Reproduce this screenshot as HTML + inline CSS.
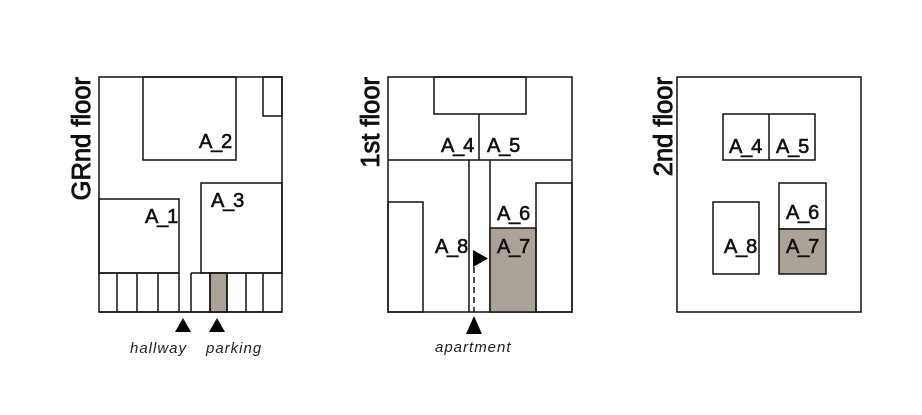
<!DOCTYPE html>
<html><head><meta charset="utf-8"><style>
html,body{margin:0;padding:0;background:#fff;}
svg{display:block;}
.l{font-family:"Liberation Sans",sans-serif;font-size:20px;fill:#111;stroke:#111;stroke-width:0.6;letter-spacing:-1.2px;}
.f{font-family:"Liberation Sans",sans-serif;font-size:25.5px;fill:#111;stroke:#111;stroke-width:0.9;}
.i{font-family:"Liberation Sans",sans-serif;font-size:15px;font-style:italic;fill:#222;letter-spacing:1px;}
</style></head><body>
<svg width="922" height="415" viewBox="0 0 922 415" xmlns="http://www.w3.org/2000/svg">
<g fill="none" stroke="#111" stroke-width="1.5">
<rect x="99" y="77" width="183" height="235"/>
<rect x="143" y="77" width="93" height="83"/>
<rect x="263" y="77" width="19" height="39"/>
<rect x="99" y="199" width="80" height="74"/>
<rect x="201" y="183" width="81" height="90"/>
<rect x="210" y="273" width="17" height="39" fill="#aba398"/>
<path d="M99 273H179M191 273H282M117 273V312M137 273V312M158 273V312M179 273V312M191 273V312M210 273V312M227 273V312M246 273V312M263 273V312M99 312H282"/>
<rect x="388" y="77" width="184" height="235"/>
<rect x="434" y="77" width="92" height="37"/>
<path d="M479 114V160M388 160H572M469 160V312M490 160V312"/>
<rect x="388" y="202" width="35" height="110"/>
<rect x="490" y="228" width="46" height="84" fill="#aba398"/>
<rect x="536" y="183" width="36" height="129"/>
<path d="M474 267V312" stroke-dasharray="6,4"/>
<rect x="677" y="77" width="184" height="235"/>
<rect x="723" y="114" width="92" height="46"/>
<path d="M769 114V160"/>
<rect x="713" y="202" width="46" height="72"/>
<rect x="779" y="183" width="47" height="46"/>
<rect x="779" y="229" width="47" height="45" fill="#aba398"/>
</g>
<g fill="#000">
<polygon points="175,332 191,332 183,318"/>
<polygon points="209,332 225,332 217,318"/>
<polygon points="473,250 473,267 488,258.5"/>
<polygon points="466,334 482,334 474,316"/>
</g>
<g class="l">
<text x="199" y="148">A_2</text>
<text x="145" y="223">A_1</text>
<text x="211" y="207">A_3</text>
<text x="441" y="152">A_4</text>
<text x="487" y="152">A_5</text>
<text x="497" y="220">A_6</text>
<text x="497" y="253">A_7</text>
<text x="435" y="253">A_8</text>
<text x="729" y="153">A_4</text>
<text x="776" y="153">A_5</text>
<text x="786" y="219">A_6</text>
<text x="786" y="253">A_7</text>
<text x="724" y="253">A_8</text>
</g>
<text class="f" transform="translate(90,77) rotate(-90)" text-anchor="end">GRnd floor</text>
<text class="f" transform="translate(379,77) rotate(-90)" text-anchor="end">1st floor</text>
<text class="f" transform="translate(672,77) rotate(-90)" text-anchor="end">2nd floor</text>
<text class="i" x="130" y="353">hallway</text>
<text class="i" x="206" y="353">parking</text>
<text class="i" x="435" y="352">apartment</text>
</svg>
</body></html>
